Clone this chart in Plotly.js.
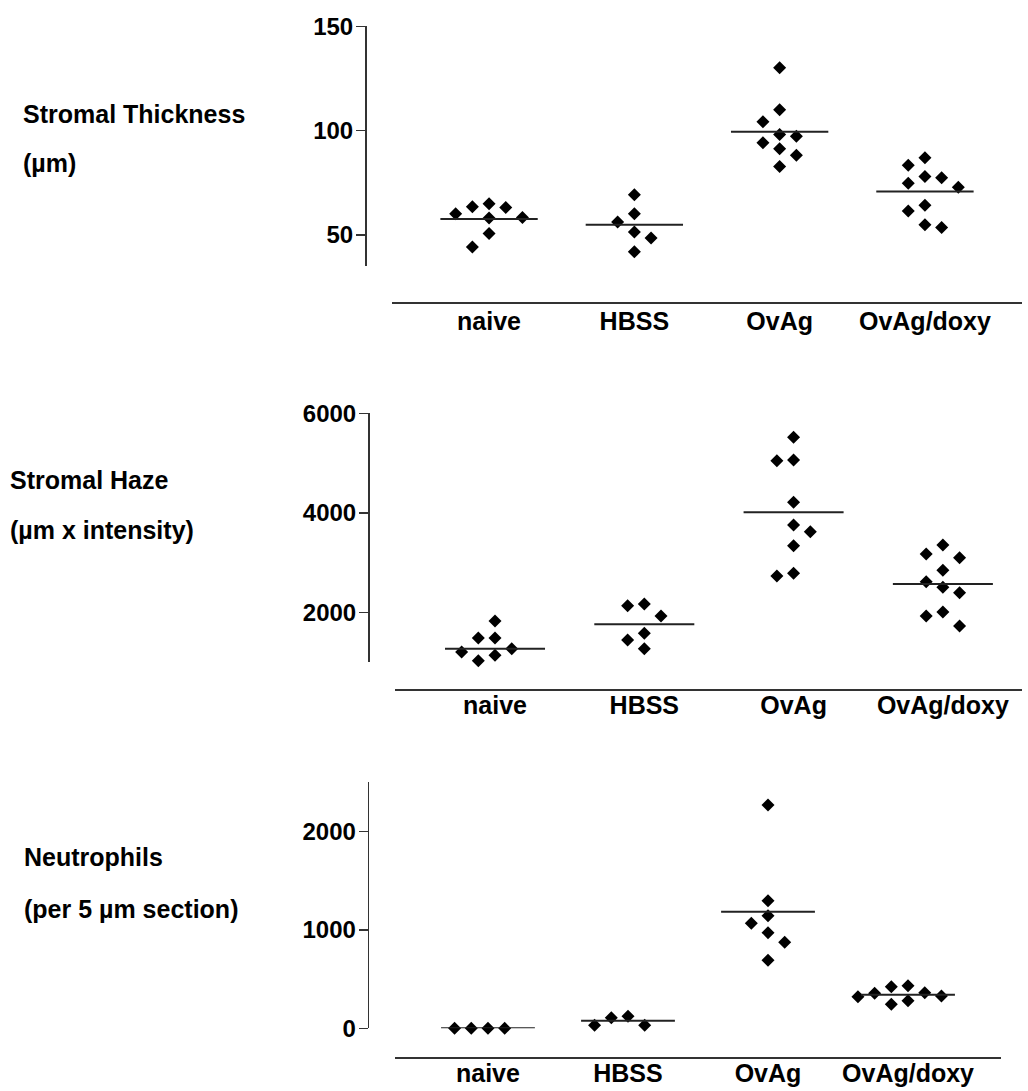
<!DOCTYPE html>
<html><head><meta charset="utf-8">
<script src="https://cdn.plot.ly/plotly-3.0.1.min.js"></script>
<style>html,body{margin:0;padding:0;background:#fff}#chart{width:1028px;height:1091px}</style>
</head><body><div id="chart"></div><script>
// ---------- data ----------
const groups = ['naive', 'HBSS', 'OvAg', 'OvAg/doxy'];

// Stromal Thickness (µm)
const thickNaive = [64.9, 63.4, 63.1, 60.1, 58.3, 58.0, 50.6, 44.1];
const thickHBSS  = [69.2, 60.1, 56.1, 51.3, 48.4, 41.8];
const thickOvAg  = [130.1, 110.0, 104.2, 98.1, 97.3, 94.1, 91.3, 88.1, 82.7];
const thickDoxy  = [86.9, 83.3, 78.0, 77.4, 74.7, 72.8, 64.1, 61.4, 54.8, 53.5];
const thickLine  = [57.5, 54.8, 99.4, 70.8];
const thickTicks = [50, 100, 150];

// Stromal Haze (µm x intensity)
const hazeNaive = [1825, 1483, 1483, 1268, 1202, 1136, 1027];
const hazeHBSS  = [2167, 2133, 1926, 1578, 1443, 1268];
const hazeOvAg  = [5518, 5061, 5047, 4211, 3755, 3620, 3339, 2784, 2730];
const hazeDoxy  = [3353, 3172, 3097, 2844, 2615, 2503, 2394, 2006, 1926, 1725];
const hazeLine  = [1268, 1759, 4010, 2569];
const hazeTicks = [2000, 4000, 6000];

// Neutrophils (per 5 µm section)
const neutNaive = [0, 0, 0, 0];
const neutHBSS  = [122, 108, 31, 31];
const neutOvAg  = [2272, 1298, 1145, 1068, 973, 875, 692];
const neutDoxy  = [433, 423, 362, 356, 329, 321, 281, 244];
const neutLine  = [0, 77, 1186, 342];
const neutTicks = [0, 1000, 2000];

// ---------- layout constants ----------
const W = 1028, H = 1091;
const FONT = '"Liberation Sans", Arial, Helvetica, sans-serif';
const panels = [
  { groupsData: [thickNaive, thickHBSS, thickOvAg, thickDoxy], line: thickLine, ticks: thickTicks,
    yDomPx: [26.4, 266], yRange: [35, 150], yPosPx: 365,
    xDomPx: [392, 1022], xRange: [-0.668, 3.668], xPosPx: 302, labelStandoff: -4,
    title: ['Stromal Thickness', '(µm)'], titleX: 21, titleY: [114, 163] },
  { groupsData: [hazeNaive, hazeHBSS, hazeOvAg, hazeDoxy], line: hazeLine, ticks: hazeTicks,
    yDomPx: [413.3, 661.7], yRange: [1007, 6000], yPosPx: 368,
    xDomPx: [395, 1022], xRange: [-0.670, 3.530], xPosPx: 689, labelStandoff: -7,
    title: ['Stromal Haze', '(µm x intensity)'], titleX: 8, titleY: [480, 530] },
  { groupsData: [neutNaive, neutHBSS, neutOvAg, neutDoxy], line: neutLine, ticks: neutTicks,
    yDomPx: [781.7, 1028.3], yRange: [0, 2508], yPosPx: 367.7,
    xDomPx: [395, 1001], xRange: [-0.664, 3.664], xPosPx: 1057, labelStandoff: -7,
    title: ['Neutrophils', '(per 5 µm section)'], titleX: 22, titleY: [857, 909] }
];
const SLOT_PX = 16.7;     // horizontal spacing between swarm columns
const COLLIDE_PX = 14;    // min vertical gap within a column
const LINE_HALF = 0.335;  // half width of group line, category units

// deterministic beeswarm: columns, filled from the top value downward
function swarm(values, pxPerUnit) {
  const order = values.map((v, i) => i).sort((a, b) => values[b] - values[a]);
  const placed = [], slots = new Array(values.length);
  let neg = 0, pos = 0;
  for (const i of order) {
    const y = values[i] * pxPerUnit;
    const free = s => placed.every(p => p.s !== s || Math.abs(p.y - y) >= COLLIDE_PX);
    let chosen = null;
    for (let k = 0; k < 12 && chosen === null; k++) {
      if (k === 0) { if (free(0)) chosen = 0; continue; }
      const a = free(-k), b = free(k);
      if (a && b) chosen = (pos < neg) ? k : -k;
      else if (a) chosen = -k;
      else if (b) chosen = k;
    }
    if (chosen < 0) neg++; else if (chosen > 0) pos++;
    placed.push({ s: chosen, y });
    slots[i] = chosen;
  }
  return slots;
}

const traces = [];
const layout = {
  width: W, height: H, margin: { l: 0, r: 0, t: 0, b: 0 },
  paper_bgcolor: '#fff', plot_bgcolor: 'rgba(0,0,0,0)',
  showlegend: false, hovermode: false, annotations: []
};
const tickFontY = { family: FONT, size: 24, color: '#000', weight: 700 };
const tickFontX = { family: FONT, size: 25, color: '#000', weight: 700 };

panels.forEach((p, k) => {
  const sfx = k === 0 ? '' : String(k + 1);
  const xa = 'x' + sfx, ya = 'y' + sfx;
  const yDom = [1 - p.yDomPx[1] / H, 1 - p.yDomPx[0] / H];
  const xDom = [p.xDomPx[0] / W, p.xDomPx[1] / W];
  const pxPerUnitY = (p.yDomPx[1] - p.yDomPx[0]) / (p.yRange[1] - p.yRange[0]);
  const pxPerCat = (p.xDomPx[1] - p.xDomPx[0]) / (p.xRange[1] - p.xRange[0]);
  const step = SLOT_PX / pxPerCat;

  const xs = [], ys = [];
  p.groupsData.forEach((vals, gi) => {
    const slots = swarm(vals, pxPerUnitY);
    vals.forEach((v, j) => { xs.push(gi + slots[j] * step); ys.push(v); });
  });
  traces.push({ type: 'scatter', mode: 'markers', x: xs, y: ys, xaxis: xa, yaxis: ya,
    cliponaxis: false, marker: { symbol: 'diamond', size: 10, color: '#000', line: { width: 0 } } });

  const lx = [], ly = [];
  p.line.forEach((m, gi) => { lx.push(gi - LINE_HALF, gi + LINE_HALF, null); ly.push(m, m, null); });
  traces.push({ type: 'scatter', mode: 'lines', x: lx, y: ly, xaxis: xa, yaxis: ya,
    cliponaxis: false, line: { color: '#222', width: 2 } });

  layout['xaxis' + sfx] = {
    domain: xDom, range: p.xRange, anchor: 'free', position: 1 - p.xPosPx / H,
    tickmode: 'array', tickvals: [0, 1, 2, 3], ticktext: groups,
    showline: true, linecolor: '#333', linewidth: 1.5,
    ticks: '', ticklabelstandoff: p.labelStandoff,
    showgrid: false, zeroline: false, tickfont: tickFontX, fixedrange: true
  };
  layout['yaxis' + sfx] = {
    domain: yDom, range: p.yRange, anchor: 'free', position: p.yPosPx / W,
    tickmode: 'array', tickvals: p.ticks, ticktext: p.ticks.map(String),
    showline: true, linecolor: '#333', linewidth: 1.5,
    ticks: 'outside', ticklen: 9, tickwidth: 1.5, tickcolor: '#333', ticklabelstandoff: -2,
    showgrid: false, zeroline: false, tickfont: tickFontY, fixedrange: true
  };
  p.title.forEach((t, ti) => {
    layout.annotations.push({ xref: 'paper', yref: 'paper', x: p.titleX / W, y: 1 - p.titleY[ti] / H,
      xanchor: 'left', yanchor: 'middle', showarrow: false, text: t,
      font: { family: FONT, size: 25, color: '#000', weight: 700 } });
  });
});

Plotly.newPlot('chart', traces, layout, { displayModeBar: false, staticPlot: true });
</script></body></html>
